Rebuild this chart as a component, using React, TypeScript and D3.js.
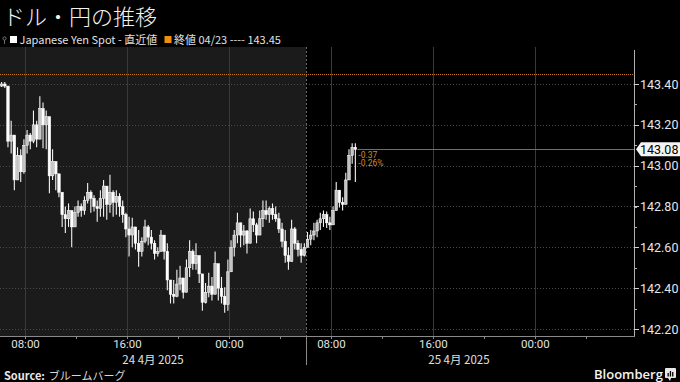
import React from 'react';
import * as d3 from 'd3';

const W = 680;
const H = 382;

const title = 'ドル・円の推移';
const seriesName = 'Japanese Yen Spot - 直近値';
const refLabel = '終値 04/23 ---- 143.45';
const refValue = 143.45;
const lastValue = 143.08;
const changeAbs = '-0.37';
const changePct = '-0.26%';

const startTime = Date.UTC(2025, 3, 24, 6, 0);
const endTime = Date.UTC(2025, 3, 26, 7, 44);
const sessionBreak = Date.UTC(2025, 3, 25, 6, 0);
const barMinutes = 15;

const yTicks = [142.2, 142.4, 142.6, 142.8, 143.0, 143.2, 143.4];
const dayLabels = ['24 4月 2025', '25 4月 2025'];
const dayCenters = [Date.UTC(2025, 3, 24, 18, 0), Date.UTC(2025, 3, 25, 18, 0)];

const firstOpen = 143.39;
const closes = [
  143.40, 143.39, 143.12, 143.15, 142.93, 143.05, 142.97, 143.10, 143.15, 143.12,
  143.20, 143.13, 143.28, 143.20, 143.24, 142.95, 143.02, 142.96, 142.87, 142.76,
  142.74, 142.78, 142.70, 142.77, 142.80, 142.78, 142.83, 142.87, 142.84, 142.80,
  142.79, 142.84, 142.90, 142.81, 142.87, 142.82, 142.85, 142.80, 142.76, 142.69,
  142.66, 142.70, 142.62, 142.58, 142.63, 142.70, 142.65, 142.62, 142.57, 142.58,
  142.66, 142.58, 142.44, 142.37, 142.36, 142.42, 142.45, 142.38, 142.50, 142.58,
  142.52, 142.56, 142.47, 142.33, 142.38, 142.41, 142.37, 142.52, 142.40, 142.36,
  142.32, 142.48, 142.60, 142.66, 142.72, 142.66, 142.68, 142.62, 142.74, 142.71,
  142.66, 142.74, 142.78, 142.76, 142.79, 142.76, 142.74, 142.69, 142.63, 142.56,
  142.53, 142.69, 142.62, 142.59, 142.56, 142.60, 142.64, 142.66, 142.68, 142.72,
  142.74, 142.76, 142.72, 142.71, 142.78, 142.88, 142.82, 142.81, 142.93, 143.05,
  143.09, 143.08,
];
const highs = [
  143.41, 143.41, 143.39, 143.22, 143.15, 143.09, 143.08, 143.13, 143.175, 143.16,
  143.27, 143.22, 143.34, 143.31, 143.27, 143.24, 143.08, 143.02, 142.96, 142.87,
  142.80, 142.815, 142.78, 142.80, 142.83, 142.815, 142.85, 142.915, 142.88, 142.855,
  142.83, 142.88, 142.93, 142.90, 142.955, 142.88, 142.88, 142.865, 142.83, 142.77,
  142.75, 142.745, 142.70, 142.685, 142.65, 142.735, 142.71, 142.685, 142.635, 142.60,
  142.685, 142.66, 142.62, 142.44, 142.44, 142.49, 142.51, 142.425, 142.54, 142.635,
  142.59, 142.62, 142.54, 142.455, 142.425, 142.475, 142.455, 142.58, 142.49, 142.455,
  142.405, 142.54, 142.635, 142.685, 142.77, 142.72, 142.71, 142.685, 142.79, 142.775,
  142.72, 142.78, 142.83, 142.83, 142.80, 142.815, 142.80, 142.77, 142.72, 142.685,
  142.60, 142.735, 142.70, 142.635, 142.62, 142.62, 142.675, 142.685, 142.72, 142.735,
  142.77, 142.78, 142.775, 142.75, 142.80, 142.92, 142.88, 142.845, 142.965, 143.08,
  143.11, 143.11,
];
const lows = [
  143.385, 143.38, 143.09, 143.06, 142.88, 142.98, 142.92, 142.96, 143.06, 143.08,
  143.11, 143.09, 143.14, 143.085, 143.08, 142.865, 142.93, 142.88, 142.845, 142.70,
  142.67, 142.70, 142.60, 142.72, 142.75, 142.75, 142.76, 142.815, 142.77, 142.775,
  142.725, 142.75, 142.75, 142.735, 142.77, 142.75, 142.76, 142.75, 142.72, 142.65,
  142.555, 142.60, 142.59, 142.505, 142.555, 142.62, 142.61, 142.59, 142.54, 142.555,
  142.59, 142.54, 142.39, 142.325, 142.325, 142.355, 142.39, 142.35, 142.405, 142.455,
  142.49, 142.49, 142.425, 142.29, 142.325, 142.355, 142.34, 142.44, 142.34, 142.325,
  142.28, 142.29, 142.49, 142.555, 142.62, 142.60, 142.61, 142.57, 142.635, 142.675,
  142.62, 142.66, 142.70, 142.735, 142.72, 142.735, 142.725, 142.67, 142.60, 142.525,
  142.49, 142.62, 142.59, 142.555, 142.525, 142.555, 142.60, 142.61, 142.635, 142.65,
  142.685, 142.70, 142.695, 142.685, 142.72, 142.81, 142.795, 142.78, 142.83, 142.94,
  143.01, 142.92,
];

const PLOT_LEFT = 0;
const PLOT_RIGHT = 634;
const PLOT_TOP = 47;
const PLOT_BOTTOM = 336;

const jpFont = "'Noto Sans CJK JP', 'Noto Sans', sans-serif";
const numFont = "Roboto, 'Liberation Sans', sans-serif";

export default function App() {
  const x = d3.scaleUtc().domain([new Date(startTime), new Date(endTime)]).range([PLOT_LEFT, PLOT_RIGHT]);
  const y = d3.scaleLinear().domain([142.2, 143.4]).range([329, 84]);

  const opens = [firstOpen, ...closes.slice(0, -1)];
  const bars = closes.map((c, i) => {
    const o = opens[i];
    const t = new Date(startTime + (i * barMinutes + barMinutes / 2) * 60000);
    return { t, o, c, h: Math.max(highs[i], o, c), l: Math.min(lows[i], o, c) };
  });

  const majorX = x.ticks(d3.utcHour.every(8)!);
  const minorX = x.ticks(d3.utcHour.every(4)!);
  const minorY = d3.range(0, 13).map((i) => 142.2 + i * 0.1);
  const fmt = d3.utcFormat('%H:%M');
  const xBreak = x(new Date(sessionBreak));
  const lastBar = bars[bars.length - 1];
  const xLast = x(lastBar.t) + 2;
  const yLast = y(lastValue);

  return (
    <div style={{ position: 'absolute', left: 0, top: 0, width: W, height: H, background: '#000' }}>
      <svg width={W} height={H} style={{ display: 'block' }}>
        <defs>
          <clipPath id="plotclip">
            <rect x={PLOT_LEFT} y={PLOT_TOP} width={PLOT_RIGHT - PLOT_LEFT} height={PLOT_BOTTOM - PLOT_TOP} />
          </clipPath>
        </defs>
        <rect x={0} y={0} width={W} height={H} fill="#000" />

        {/* title */}
        <text x={3} y={25} fill="#f2f2f2" fontSize={22} fontFamily={jpFont} fontWeight={300}>{title}</text>

        {/* legend */}
        <g fontFamily={jpFont} fontSize={11} fill="#e0e0e0">
          <circle cx={4.5} cy={38.5} r={1.6} fill="none" stroke="#888" strokeWidth={0.8} />
          <line x1={4.5} x2={4.5} y1={40} y2={44} stroke="#888" strokeWidth={0.8} />
          <rect x={10} y={36} width={7} height={7} fill="#fff" />
          <text x={19.5} y={44}>{seriesName}</text>
          <rect x={164.5} y={36} width={7} height={7} fill="#f0900a" />
          <text x={174} y={44}>{refLabel}</text>
        </g>

        {/* plot backgrounds */}
        <rect x={PLOT_LEFT} y={PLOT_TOP} width={xBreak - PLOT_LEFT} height={PLOT_BOTTOM - PLOT_TOP} fill="#1b1b1b" />

        <g clipPath="url(#plotclip)">
          {yTicks.map((v) => (
            <line key={'hg' + v} x1={PLOT_LEFT} x2={PLOT_RIGHT} y1={Math.round(y(v)) + 0.5} y2={Math.round(y(v)) + 0.5}
              stroke="#4a4a4a" strokeWidth={1} strokeDasharray="1,2" />
          ))}
          {majorX.map((d) => (
            <line key={'vg' + d.getTime()} x1={Math.round(x(d)) + 0.5} x2={Math.round(x(d)) + 0.5} y1={PLOT_TOP} y2={PLOT_BOTTOM}
              stroke="#3a3a3a" strokeWidth={1} />
          ))}
          <line x1={Math.round(xBreak) + 0.5} x2={Math.round(xBreak) + 0.5} y1={PLOT_TOP} y2={PLOT_BOTTOM}
            stroke="#6a6a6a" strokeWidth={1} strokeDasharray="2,2" />

          {/* reference line (previous close) */}
          <line x1={PLOT_LEFT} x2={PLOT_RIGHT} y1={Math.round(y(refValue)) + 0.5} y2={Math.round(y(refValue)) + 0.5}
            stroke="#c07a18" strokeWidth={1} strokeDasharray="1,1" />

          {/* last value line */}
          <line x1={xLast} x2={PLOT_RIGHT} y1={Math.round(yLast) + 0.5} y2={Math.round(yLast) + 0.5}
            stroke="#a8650f" strokeWidth={1} />

          {/* candles */}
          {bars.map((b, i) => {
            const cx = x(b.t);
            const top = y(Math.max(b.o, b.c));
            const bot = y(Math.min(b.o, b.c));
            const up = b.c >= b.o;
            return (
              <g key={'c' + i}>
                <line x1={cx} x2={cx} y1={y(b.h)} y2={y(b.l)} stroke="#f4f4f4" strokeWidth={1.1} />
                <rect x={cx - 1.3} y={top} width={2.6} height={Math.max(1, bot - top)}
                  fill={up ? '#c4c4c4' : '#ffffff'} stroke="#ffffff" strokeWidth={0.5} />
              </g>
            );
          })}
        </g>

        {/* change annotation */}
        <g fontFamily={numFont} fontSize={8.5} fill="#d08a28">
          <text x={xLast + 1} y={yLast + 8.5}>{changeAbs}</text>
          <text x={xLast + 1} y={yLast + 17}>{changePct}</text>
        </g>

        {/* right axis */}
        <line x1={PLOT_RIGHT + 0.5} x2={PLOT_RIGHT + 0.5} y1={50} y2={PLOT_BOTTOM} stroke="#b0b0b0" strokeWidth={1} />
        {minorY.map((v, i) => (
          <line key={'my' + i} x1={PLOT_RIGHT} x2={PLOT_RIGHT + 3} y1={Math.round(y(v)) + 0.5} y2={Math.round(y(v)) + 0.5}
            stroke="#b0b0b0" strokeWidth={1} />
        ))}
        {yTicks.map((v) => (
          <g key={'yt' + v}>
            <line x1={PLOT_RIGHT} x2={PLOT_RIGHT + 5} y1={Math.round(y(v)) + 0.5} y2={Math.round(y(v)) + 0.5}
              stroke="#d0d0d0" strokeWidth={1} />
            <text x={640} y={y(v) + 4.5} fill="#e6e6e6" fontSize={12.5} fontFamily={numFont}>{v.toFixed(2)}</text>
          </g>
        ))}

        {/* last value tag */}
        <path d={`M ${PLOT_RIGHT + 2} ${yLast} L ${PLOT_RIGHT + 7} ${yLast - 7} L ${W} ${yLast - 7} L ${W} ${yLast + 7} L ${PLOT_RIGHT + 7} ${yLast + 7} Z`}
          fill="#f4f4f4" />
        <text x={640} y={yLast + 4.5} fill="#000" fontSize={12.5} fontFamily={numFont}>{lastValue.toFixed(2)}</text>

        {/* bottom axis */}
        <line x1={PLOT_LEFT} x2={PLOT_RIGHT + 1} y1={PLOT_BOTTOM + 0.5} y2={PLOT_BOTTOM + 0.5} stroke="#8a8a8a" strokeWidth={1} />
        {minorX.map((d) => (
          <line key={'mx' + d.getTime()} x1={Math.round(x(d)) + 0.5} x2={Math.round(x(d)) + 0.5} y1={PLOT_BOTTOM} y2={PLOT_BOTTOM + 3}
            stroke="#8a8a8a" strokeWidth={1} />
        ))}
        {majorX.map((d) => (
          <text key={'xl' + d.getTime()} x={x(d)} y={348} textAnchor="middle" fill="#e0e0e0" fontSize={11.5} fontFamily={numFont}>
            {fmt(d)}
          </text>
        ))}
        <line x1={Math.round(xBreak) + 0.5} x2={Math.round(xBreak) + 0.5} y1={PLOT_BOTTOM} y2={365} stroke="#8a8a8a" strokeWidth={1} />
        {dayLabels.map((s, i) => (
          <text key={'dl' + i} x={x(new Date(dayCenters[i]))} y={364} textAnchor="middle" fill="#e0e0e0" fontSize={11.5} fontFamily={jpFont}>
            {s}
          </text>
        ))}

        {/* footer */}
        <text x={4} y={380} fontSize={11} fontFamily={jpFont} fill="#e8e8e8">
          <tspan fontWeight={700}>Source:</tspan>
          <tspan dx={4} fill="#d8d8d8">ブルームバーグ</tspan>
        </text>
        <text x={594} y={379} fontSize={13} fontFamily={"'Open Sans', Roboto, sans-serif"} fontWeight={600} fill="#f4f4f4">Bloomberg</text>
        <g>
          <rect x={665} y={368} width={11} height={10} rx={1} fill="#e8e8e8" />
          <path d="M 668 378 L 670 381 L 671 378 Z" fill="#e8e8e8" />
          <rect x={667.5} y={373} width={1.3} height={3.5} fill="#000" />
          <rect x={669.8} y={371} width={1.3} height={5.5} fill="#000" />
          <rect x={672.1} y={372} width={1.3} height={4.5} fill="#000" />
        </g>
      </svg>
    </div>
  );
}
